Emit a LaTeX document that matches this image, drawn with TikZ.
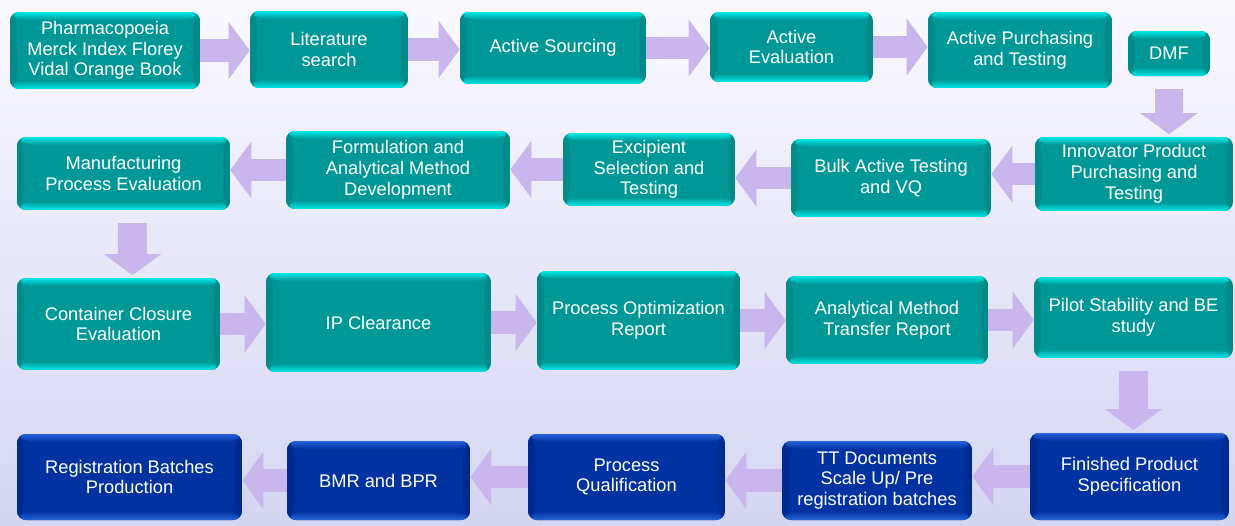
\documentclass[tikz,border=0pt]{standalone}
\usepackage{fontspec}
\setmainfont{Liberation Sans}
\usepackage{xcolor}
\usetikzlibrary{
    arrows.meta,
    calc
}
\definecolor{tealmid}{RGB}{0,152,150}
\definecolor{tealhi}{RGB}{0,232,232}
\definecolor{tealside}{RGB}{0,138,137}
\definecolor{bluemid}{RGB}{0,50,162}
\definecolor{bluehi}{RGB}{40,100,215}
\definecolor{blueside}{RGB}{0,42,142}
\definecolor{arrowlav}{RGB}{200,182,236}
\definecolor{bgtop}{RGB}{250,249,255}
\definecolor{bgmid}{RGB}{238,234,249}
\definecolor{bgbot}{RGB}{212,214,242}
\tikzset{%
    % Specifications for style of nodes:
    base/.style = {
        rectangle, rounded corners=5pt, text=white,
        text centered, align=center, inner sep=2pt,
        font=\fontsize{10.4}{11.8}\selectfont
    },
    bevel/.style n args = {3}{
        fill=#1,
        path picture={
            \coordinate (pa) at (path picture bounding box.north west);
            \coordinate (pb) at (path picture bounding box.south east);
            % top and bottom bands
            \shade[top color=#2, bottom color=#1] (pa) -- (pa -| pb)
                -- ($(pa -| pb)+(-4pt,-4.5pt)$) -- ($(pa)+(4pt,-4.5pt)$) -- cycle;
            \shade[top color=#1, bottom color=#2] (pa |- pb) -- (pb)
                -- ($(pb)+(-4pt,5pt)$) -- ($(pa |- pb)+(4pt,5pt)$) -- cycle;
            % side bands
            \fill[#3] (pa) -- ($(pa)+(4pt,-4.5pt)$) -- ($(pa |- pb)+(4pt,5pt)$)
                -- (pa |- pb) -- cycle;
            \fill[#3] (pa -| pb) -- ($(pa -| pb)+(-4pt,-4.5pt)$) -- ($(pb)+(-4pt,5pt)$)
                -- (pb) -- cycle;
        }
    },
    tealbox/.style = {base, bevel={tealmid}{tealhi}{tealside}},
    bluebox/.style = {base, bevel={bluemid}{bluehi}{blueside}},
    flow/.style = {
        draw=arrowlav, line width=13pt,
        -{Triangle[length=12pt, width=32pt]}
    },
    flowdown/.style = {flow, line width=16pt, shorten <=0.25cm, shorten >=0.05cm}
}

\begin{document}
\begin{tikzpicture}[x=0.02cm, y=-0.02cm]
    \shade[top color=bgtop, middle color=bgmid, bottom color=bgbot] (0,0) rectangle (1235,525);
    \useasboundingbox (0,0) rectangle (1235,525);

    % first row
    \node[tealbox, minimum width=3.8cm, minimum height=1.54cm] (b1) at (105,50.5) {Pharmacopoeia\\Merck Index Florey\\Vidal Orange Book};
    \node[tealbox, minimum width=3.16cm, minimum height=1.54cm] (b2) at (329,49.5) {Literature\\search};
    \node[tealbox, minimum width=3.72cm, minimum height=1.44cm] (b3) at (553,48) {Active Sourcing};
    \node[tealbox, minimum width=3.26cm, minimum height=1.4cm] (b4) at (791.5,47) {Active\\Evaluation};
    \node[tealbox, minimum width=3.68cm, minimum height=1.52cm] (b5) at (1020,50) {Active Purchasing\\and Testing};
    \node[tealbox, minimum width=1.64cm, minimum height=0.9cm] (b6) at (1169,53.5) {DMF};

    % second row
    \node[tealbox, minimum width=3.96cm, minimum height=1.48cm] (b7) at (1134,174) {Innovator Product\\Purchasing and\\Testing};
    \node[tealbox, minimum width=4cm, minimum height=1.56cm] (b8) at (891,178) {Bulk Active Testing\\and VQ};
    \node[tealbox, minimum width=3.44cm, minimum height=1.46cm] (b9) at (649,169.5) {Excipient\\Selection and\\Testing};
    \node[tealbox, minimum width=4.48cm, minimum height=1.56cm] (b10) at (398,170) {Formulation and\\Analytical Method\\Development};
    \node[tealbox, minimum width=4.26cm, minimum height=1.46cm] (b11) at (123.5,173.5) {Manufacturing\\Process Evaluation};

    % third row
    \node[tealbox, minimum width=4.06cm, minimum height=1.84cm] (b12) at (118.5,324) {Container Closure\\Evaluation};
    \node[tealbox, minimum width=4.5cm, minimum height=1.98cm] (b13) at (378.5,322.5) {IP Clearance};
    \node[tealbox, minimum width=4.06cm, minimum height=1.98cm] (b14) at (638.5,320.5) {Process Optimization\\Report};
    \node[tealbox, minimum width=4.04cm, minimum height=1.76cm] (b15) at (887,320) {Analytical Method\\Transfer Report};
    \node[tealbox, minimum width=3.98cm, minimum height=1.62cm] (b16) at (1133.5,317.5) {Pilot Stability and BE\\study};

    % last row
    \node[bluebox, minimum width=3.98cm, minimum height=1.74cm] (b17) at (1129.5,476.5) {Finished Product\\Specification};
    \node[bluebox, minimum width=3.8cm, minimum height=1.58cm] (b18) at (877,480.5) {TT Documents\\Scale Up/ Pre\\registration batches};
    \node[bluebox, minimum width=3.94cm, minimum height=1.72cm] (b19) at (626.5,477) {Process\\Qualification};
    \node[bluebox, minimum width=3.66cm, minimum height=1.58cm] (b20) at (378.5,480.5) {BMR and BPR};
    \node[bluebox, minimum width=4.5cm, minimum height=1.72cm] (b21) at (129.5,477) {Registration Batches\\Production};

    % arrows
    \draw[flow] (b1.east) -- (b1.east -| b2.west);
    \draw[flow] (b2.east) -- (b2.east -| b3.west);
    \draw[flow] (b3.east) -- (b3.east -| b4.west);
    \draw[flow] (b4.east) -- (b4.east -| b5.west);
    \draw[flowdown] (b6.south) -- (b6.south |- b7.north);
    \draw[flow] (b7.west) -- (b7.west -| b8.east);
    \draw[flow] (b8.west) -- (b8.west -| b9.east);
    \draw[flow] (b9.west) -- (b9.west -| b10.east);
    \draw[flow] (b10.west) -- (b10.west -| b11.east);
    \draw[flowdown] ([xshift=0.18cm]b11.south) -- ([xshift=0.18cm]b11.south |- b12.north);
    \draw[flow] (b12.east) -- (b12.east -| b13.west);
    \draw[flow] (b13.east) -- (b13.east -| b14.west);
    \draw[flow] (b14.east) -- (b14.east -| b15.west);
    \draw[flow] (b15.east) -- (b15.east -| b16.west);
    \draw[flowdown] (b16.south) -- (b16.south |- b17.north);
    \draw[flow] (b17.west) -- (b17.west -| b18.east);
    \draw[flow] (b18.west) -- (b18.west -| b19.east);
    \draw[flow] (b19.west) -- (b19.west -| b20.east);
    \draw[flow] (b20.west) -- (b20.west -| b21.east);
\end{tikzpicture}
\end{document}
